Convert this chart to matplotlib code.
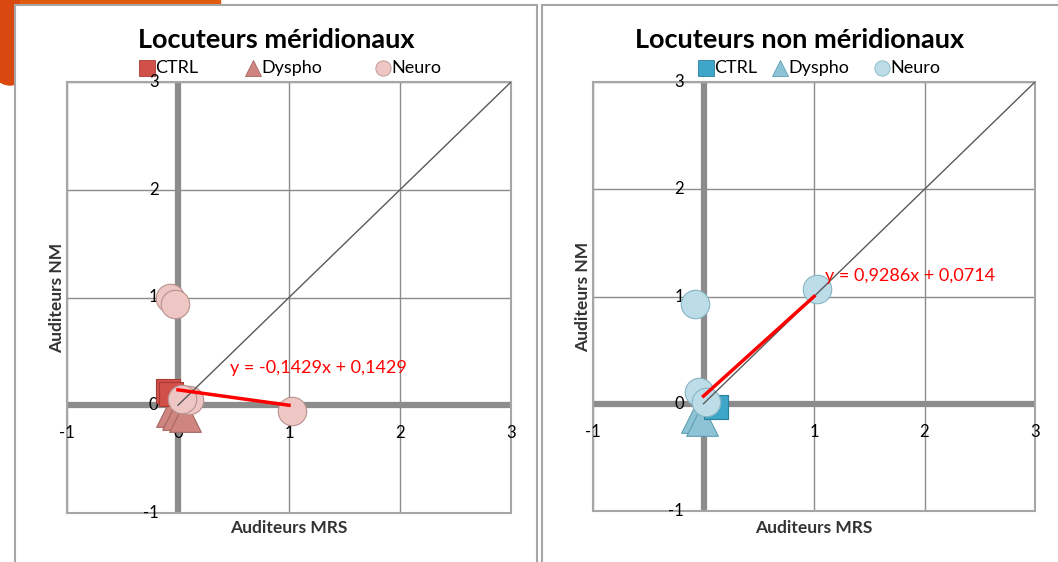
import matplotlib
matplotlib.use("Agg")
import matplotlib.pyplot as plt
from matplotlib.patches import Rectangle, Ellipse

plt.rcParams['font.family'] = ['Lato', 'DejaVu Sans']

# ---- data ----
titles = ["Locuteurs méridionaux", "Locuteurs non méridionaux"]
series_names = ["CTRL", "Dyspho", "Neuro"]
ticks = [-1, 0, 1, 2, 3]

# Left panel (méridionaux)
L_ctrl_x = [-0.09, -0.06]
L_ctrl_y = [0.13, 0.10]
L_dys_x = [-0.05, 0.0, 0.06]
L_dys_y = [-0.05, -0.08, -0.10]
L_neu_x = [-0.07, -0.03, 0.10, 0.04, 1.03]
L_neu_y = [1.00, 0.94, 0.05, 0.06, -0.05]
L_slope, L_inter = -0.1429, 0.1429
L_eq = "y = -0,1429x + 0,1429"

# Right panel (non méridionaux)
R_ctrl_x = [0.11]
R_ctrl_y = [-0.03]
R_dys_x = [-0.06, -0.01]
R_dys_y = [-0.12, -0.15]
R_neu_x = [-0.08, 1.03, -0.04, 0.02]
R_neu_y = [0.93, 1.07, 0.11, 0.02]
R_slope, R_inter = 0.9286, 0.0714
R_eq = "y = 0,9286x + 0,0714"

W, H = 1058, 562
fig = plt.figure(figsize=(W / 100, H / 100), dpi=100)
fig.patch.set_facecolor('white')

# decorative slide background bits (top-left orange)
bg = fig.add_axes([0, 0, 1, 1], zorder=-10)
bg.set_xlim(0, W); bg.set_ylim(H, 0); bg.axis('off')
bg.add_patch(Ellipse((10, 30), 60, 110, color='#d9480f', zorder=0))
bg.add_patch(Rectangle((20, 0), 200, 6, color='#e05a10', zorder=0))
# chart boxes
bg.add_patch(Rectangle((15, 5), 522, 600, facecolor='white', edgecolor='#a6a6a6', lw=1.5, zorder=1))
bg.add_patch(Rectangle((542, 5), 530, 600, facecolor='white', edgecolor='#a6a6a6', lw=1.5, zorder=1))

panels = [
    dict(rect=(67, 82, 511, 513), cx=276, title=titles[0],
         ctrl=(L_ctrl_x, L_ctrl_y), dys=(L_dys_x, L_dys_y), neu=(L_neu_x, L_neu_y),
         slope=L_slope, inter=L_inter, eq=L_eq, eqpos=(0.47, 0.30),
         colors=dict(ctrl=('#d2504a', '#a83a35'), dys=('#cf8580', '#a86560'), neu=('#eec6c4', '#b89290')),
         legx=[147, 253, 383]),
    dict(rect=(593, 82, 1035, 511), cx=800, title=titles[1],
         ctrl=(R_ctrl_x, R_ctrl_y), dys=(R_dys_x, R_dys_y), neu=(R_neu_x, R_neu_y),
         slope=R_slope, inter=R_inter, eq=R_eq, eqpos=(1.1, 1.14),
         colors=dict(ctrl=('#3ea6c8', '#2a7f9c'), dys=('#8cc4d6', '#5f9fb4'), neu=('#bcdde8', '#86b4c4')),
         legx=[706, 780, 882]),
]

for p in panels:
    x0, y0, x1, y1 = p['rect']
    ax = fig.add_axes([x0 / W, 1 - y1 / H, (x1 - x0) / W, (y1 - y0) / H])
    ax.set_xlim(-1, 3); ax.set_ylim(-1, 3)
    for s in ax.spines.values():
        s.set_color('#a6a6a6'); s.set_linewidth(1.5)
    ax.set_xticks([]); ax.set_yticks([])
    for t in ticks:
        if t != 0:
            ax.axvline(t, color='#8c8c8c', lw=1.0, zorder=1)
            ax.axhline(t, color='#8c8c8c', lw=1.0, zorder=1)
    ax.axvline(0, color='#8c8c8c', lw=4.5, zorder=2)
    ax.axhline(0, color='#8c8c8c', lw=4.5, zorder=2)
    # tick labels near the axes
    for t in ticks:
        ax.annotate(str(t), (0, t), xytext=(-14, 0), textcoords='offset points',
                    ha='right', va='center', fontsize=12, zorder=3, annotation_clip=False)
        ax.annotate(str(t), (t, 0), xytext=(0, -20), textcoords='offset points',
                    ha='center', va='center', fontsize=12, zorder=3, annotation_clip=False)
    c = p['colors']
    ax.scatter(*p['dys'], marker='^', s=520, facecolor=c['dys'][0], edgecolor=c['dys'][1], lw=0.8, zorder=4)
    ax.scatter(*p['ctrl'], marker='s', s=300, facecolor=c['ctrl'][0], edgecolor=c['ctrl'][1], lw=0.8, zorder=5)
    ax.scatter(*p['neu'], marker='o', s=420, facecolor=c['neu'][0], edgecolor=c['neu'][1], lw=0.8, zorder=6)
    # diagonal
    ax.plot([0, 3], [0, 3], color='#595959', lw=1.0, zorder=7)
    # trend line
    ax.plot([0, 1], [p['inter'], p['slope'] + p['inter']], color='#ff0000', lw=2.5, zorder=8)
    ax.text(p['eqpos'][0], p['eqpos'][1], p['eq'], color='#ff0000', fontsize=13, zorder=9)
    # axis labels
    fig.text((x0 - 10) / W, 1 - ((y0 + y1) / 2) / H, "Auditeurs NM", rotation=90,
             ha='center', va='center', fontsize=12.5, fontweight='bold', color='#333333')
    fig.text(((x0 + x1) / 2) / W, 1 - 528 / H, "Auditeurs MRS",
             ha='center', va='center', fontsize=12.5, fontweight='bold', color='#333333')
    # title
    fig.text(p['cx'] / W, 1 - 40 / H, p['title'], ha='center', va='center',
             fontsize=19.5, fontweight='bold')
    # legend
    mk = ['s', '^', 'o']
    cols = [c['ctrl'], c['dys'], c['neu']]
    for name, m, col, lx in zip(series_names, mk, cols, p['legx']):
        bg.plot([lx], [68], marker=m, ms=11, mfc=col[0], mec=col[1], mew=0.6, zorder=5)
        bg.text(lx + 8, 68, name, ha='left', va='center', fontsize=13, zorder=5)

fig.savefig('out.png', dpi=100)
